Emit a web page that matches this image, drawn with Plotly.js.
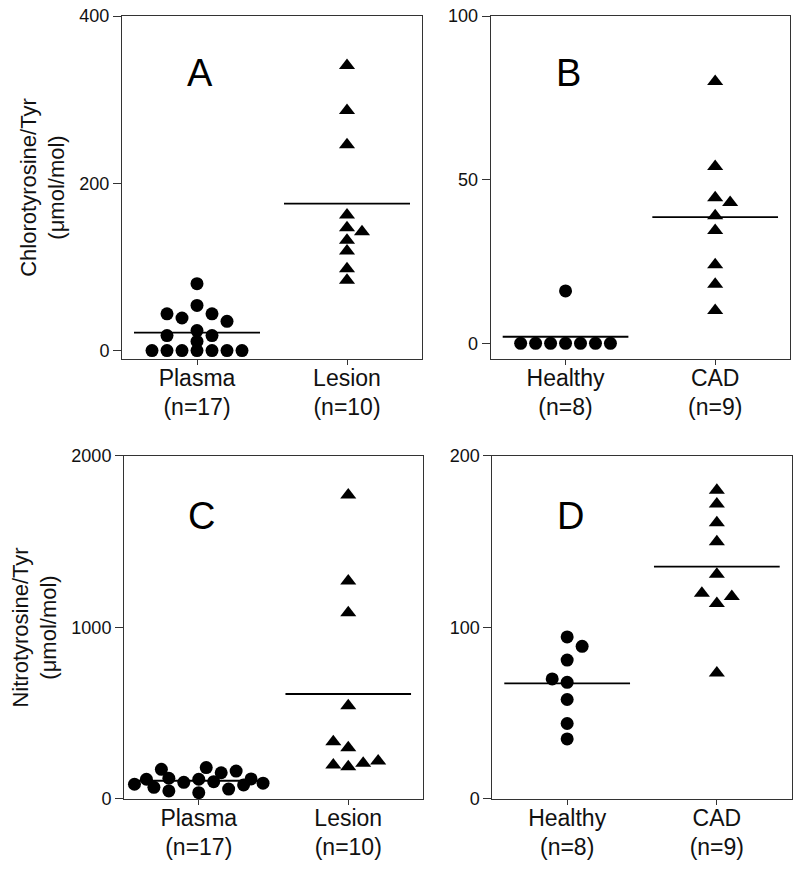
<!DOCTYPE html>
<html>
<head>
<meta charset="utf-8">
<script src="https://cdn.plot.ly/plotly-3.0.1.min.js"></script>
<style>html,body{margin:0;padding:0;background:#fff;}#chart{width:800px;height:876px;}</style>
</head>
<body>
<div id="chart"></div>
<script>
// ---- Data ----
// Panel A: Chlorotyrosine/Tyr, Plasma vs Lesion
const aCategories = ["Plasma<br>(n=17)", "Lesion<br>(n=10)"];
const aPlasma = [0, 0, 0, 0, 0, 0, 0, 11, 18, 18, 24, 35, 39, 44, 44, 54, 80];
const aPlasmaSlot = [-3, -2, -1, 0, 1, 2, 3, 0, -2, 1, 0, 2, -1, -2, 1, 0, 0];
const aLesion = [341, 287, 246, 162, 147, 142, 132, 119, 98, 84];
const aLesionSlot = [0, 0, 0, 0, 0, 1, 0, 0, 0, 0];

// Panel B: Chlorotyrosine/Tyr, Healthy vs CAD
const bCategories = ["Healthy<br>(n=8)", "CAD<br>(n=9)"];
const bHealthy = [0, 0, 0, 0, 0, 0, 0, 16];
const bHealthySlot = [-3, -2, -1, 0, 1, 2, 3, 0];
const bCAD = [80, 54, 44.5, 43, 39, 34.5, 24, 18, 10];
const bCADSlot = [0, 0, 0, 1, 0, 0, 0, 0, 0];

// Panel C: Nitrotyrosine/Tyr, Plasma vs Lesion
const cCategories = ["Plasma<br>(n=17)", "Lesion<br>(n=10)"];
const cPlasma = [86, 115, 68, 173, 121, 47, 97, 115, 37, 183, 101, 153, 58, 163, 82, 117, 92];
const cPlasmaSlot = [-4.3, -3.5, -3, -2.5, -2, -2, -1, 0, 0, 0.5, 1, 1.5, 2, 2.5, 3, 3.5, 4.3];
const cLesion = [1772, 1271, 1086, 544, 334, 299, 198, 188, 208, 222];
const cLesionSlot = [0, 0, 0, 0, -1, 0, -1, 0, 1, 2];

// Panel D: Nitrotyrosine/Tyr, Healthy vs CAD
const dCategories = ["Healthy<br>(n=8)", "CAD<br>(n=9)"];
const dHealthy = [94.5, 89, 81, 70, 68, 58, 44, 35];
const dHealthySlot = [0, 1, 0, -1, 0, 0, 0, 0];
const dCAD = [180, 172, 161, 150, 131, 120, 118, 114, 73.5];
const dCADSlot = [0, 0, 0, 0, 0, -1, 1, 0, 0];

const panelLetters = ["A", "B", "C", "D"];

// ---- Helpers ----
const SLOT = 0.1;     // horizontal jitter step (category units)
const HALF = 0.42;    // half width of mean line
const mean = a => a.reduce((s, v) => s + v, 0) / a.length;

function groupTraces(vals, slots, cat, symbol, xa, ya) {
  return [
    {
      type: "scatter", mode: "markers", xaxis: xa, yaxis: ya,
      x: vals.map((v, i) => cat + slots[i] * SLOT), y: vals,
      marker: {symbol: symbol, size: symbol === "circle" ? 13 : 14, color: "#000", line: {width: 0}},
      cliponaxis: false, hoverinfo: "y", showlegend: false
    },
    {
      type: "scatter", mode: "lines", xaxis: xa, yaxis: ya,
      x: [cat - HALF, cat + HALF], y: [mean(vals), mean(vals)],
      line: {color: "#000", width: 1.8}, cliponaxis: false, hoverinfo: "skip", showlegend: false
    }
  ];
}

const traces = [].concat(
  groupTraces(aPlasma, aPlasmaSlot, 0, "circle", "x", "y"),
  groupTraces(aLesion, aLesionSlot, 1, "triangle-up", "x", "y"),
  groupTraces(bHealthy, bHealthySlot, 0, "circle", "x2", "y2"),
  groupTraces(bCAD, bCADSlot, 1, "triangle-up", "x2", "y2"),
  groupTraces(cPlasma, cPlasmaSlot, 0, "circle", "x3", "y3"),
  groupTraces(cLesion, cLesionSlot, 1, "triangle-up", "x3", "y3"),
  groupTraces(dHealthy, dHealthySlot, 0, "circle", "x4", "y4"),
  groupTraces(dCAD, dCADSlot, 1, "triangle-up", "x4", "y4")
);

const FONT = "Liberation Sans, Arial, Helvetica, sans-serif";
const LINE = "#333";

function xAxis(domain, anchor, cats) {
  return {
    domain: domain, anchor: anchor, range: [-0.5, 1.5],
    tickmode: "array", tickvals: [0, 1], ticktext: cats,
    showline: true, mirror: true, linecolor: LINE, linewidth: 1,
    ticks: "outside", ticklen: 5, tickcolor: LINE, tickwidth: 1,
    ticklabelstandoff: -7,
    showgrid: false, zeroline: false,
    tickfont: {family: FONT, size: 23, color: "#111"}
  };
}
function yAxis(domain, anchor, range, vals, title) {
  const ax = {
    domain: domain, anchor: anchor, range: range,
    tickmode: "array", tickvals: vals,
    showline: true, mirror: true, linecolor: LINE, linewidth: 1,
    ticks: "outside", ticklen: 8, tickcolor: LINE, tickwidth: 1,
    showgrid: false, zeroline: false,
    tickfont: {family: FONT, size: 18, color: "#111"}
  };
  if (title) ax.title = {text: title, font: {family: FONT, size: 22, color: "#111"}, standoff: 8};
  return ax;
}

const topDom = [0.5902, 0.9817];
const botDom = [0.0879, 0.4795];

const annotations = panelLetters.map((t, i) => ({
  text: t, xref: "x" + (i === 0 ? "" : i + 1), yref: "y" + (i === 0 ? "" : i + 1) + " domain",
  x: 0.02, y: i < 2 ? 0.835 : 0.825, xanchor: "center", yanchor: "middle", showarrow: false,
  font: {family: FONT, size: 38, color: "#000"}
}));

const layout = {
  width: 800, height: 876,
  margin: {l: 0, r: 0, t: 0, b: 0},
  paper_bgcolor: "#fff", plot_bgcolor: "#fff",
  font: {family: FONT, color: "#111"},
  showlegend: false,
  xaxis: xAxis([0.1525, 0.5275], "y", aCategories),
  yaxis: yAxis(topDom, "x", [-10, 400], [0, 200, 400], "Chlorotyrosine/Tyr<br>(μmol/mol)"),
  xaxis2: xAxis([0.6134, 0.9875], "y2", bCategories),
  yaxis2: yAxis(topDom, "x2", [-4.8, 100], [0, 50, 100], null),
  xaxis3: xAxis([0.155, 0.52875], "y3", cCategories),
  yaxis3: yAxis(botDom, "x3", [0, 2000], [0, 1000, 2000], "Nitrotyrosine/Tyr<br>(μmol/mol)"),
  xaxis4: xAxis([0.6154, 0.9896], "y4", dCategories),
  yaxis4: yAxis(botDom, "x4", [0, 200], [0, 100, 200], null),
  annotations: annotations
};

Plotly.newPlot("chart", traces, layout, {staticPlot: true, displayModeBar: false});
</script>
</body>
</html>
